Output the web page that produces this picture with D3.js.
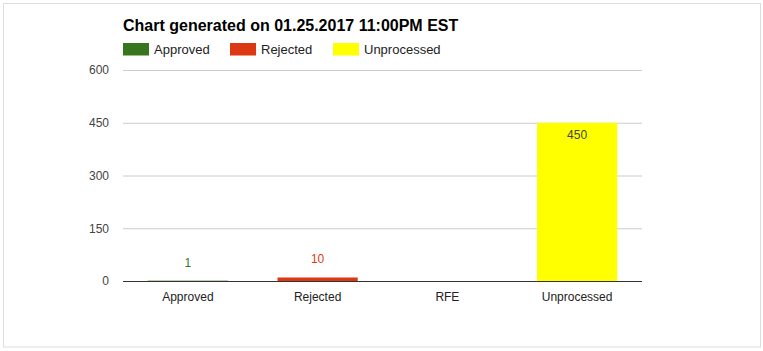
<!DOCTYPE html>
<html>
<head>
<meta charset="utf-8">
<script src="https://cdn.jsdelivr.net/npm/d3@7"></script>
<style>
  body { margin: 0; background: #fff; }
  svg { font-family: Arial, "Liberation Sans", sans-serif; }
</style>
</head>
<body>
<svg id="chart" width="763" height="351"></svg>
<script>
// chart data
var categories = ["Approved", "Rejected", "RFE", "Unprocessed"];
var values = [1, 10, null, 450];
var barColors = ["#38761d", "#dc3912", "#38761d", "#ffff00"];
var labelColors = ["#38761d", "#dc3912", "#38761d", "#444444"];
var legendNames = ["Approved", "Rejected", "Unprocessed"];
var legendColors = ["#38761d", "#dc3912", "#ffff00"];
var yTicks = [0, 150, 300, 450, 600];

var svg = d3.select("#chart")
  , plotLeft = 123, plotRight = 642, plotTop = 70, plotBottom = 281
;

// outer frame
svg.append("rect")
    .attr("x", 3.5).attr("y", 3.5)
    .attr("width", 757).attr("height", 343.5)
    .attr("fill", "#fff")
    .attr("stroke", "#dddddd");

svg.append("text")
    .attr("x", plotLeft).attr("y", 31)
    .attr("font-size", 16).attr("font-weight", "bold")
    .attr("fill", "#000")
    .text("Chart generated on 01.25.2017 11:00PM EST");

// legend
var legendX = [123, 230, 333];
var legend = svg.selectAll(".legend")
    .data(legendNames)
  .enter().append("g")
    .attr("class", "legend")
    .attr("transform", function(d, i) { return "translate(" + legendX[i] + ",43)"; });
legend.append("rect")
    .attr("width", 26).attr("height", 12.5)
    .attr("fill", function(d, i) { return legendColors[i]; });
legend.append("text")
    .attr("x", 31).attr("y", 11)
    .attr("font-size", 13).attr("fill", "#222")
    .text(function(d) { return d; });

var x = d3.scaleBand()
    .domain(categories)
    .range([plotLeft, plotRight])
    .paddingInner(0.382).paddingOuter(0.191);

var y = d3.scaleLinear()
    .domain([0, 600])
    .range([plotBottom, plotTop]);

// gridlines + y labels
var yAxis = d3.axisLeft(y)
    .tickValues(yTicks)
    .tickSize(-(plotRight - plotLeft))
    .tickPadding(14);
var gy = svg.append("g")
    .attr("transform", "translate(" + plotLeft + ",0)")
    .call(yAxis);
gy.select(".domain").remove();
gy.selectAll(".tick line")
    .attr("stroke", "#cccccc");
gy.selectAll(".tick text")
    .attr("font-size", 12).attr("fill", "#444")
    .attr("font-family", "Arial, 'Liberation Sans', sans-serif");

// bars
var rows = categories.map(function(c, i) { return { cat: c, v: values[i], i: i }; });
svg.selectAll(".bar")
    .data(rows.filter(function(d) { return d.v != null; }))
  .enter().append("rect")
    .attr("class", "bar")
    .attr("x", function(d) { return x(d.cat); })
    .attr("width", x.bandwidth())
    .attr("y", function(d) { return y(d.v); })
    .attr("height", function(d) { return y(0) - y(d.v); })
    .attr("fill", function(d) { return barColors[d.i]; });

// baseline on top of bars
svg.append("line")
    .attr("x1", plotLeft).attr("x2", plotRight)
    .attr("y1", y(0) + 0.5).attr("y2", y(0) + 0.5)
    .attr("stroke", "#333");

// value labels: inside tall bars, above short ones
svg.selectAll(".val")
    .data(rows.filter(function(d) { return d.v != null; }))
  .enter().append("text")
    .attr("class", "val")
    .attr("x", function(d) { return x(d.cat) + x.bandwidth() / 2; })
    .attr("y", function(d) {
        return (y(0) - y(d.v)) > 30 ? y(d.v) + 16 : y(d.v) - 14;
      })
    .attr("text-anchor", "middle")
    .attr("font-size", 12)
    .attr("fill", function(d) { return labelColors[d.i]; })
    .text(function(d) { return d.v; });

// category labels
var xAxis = d3.axisBottom(x).tickSize(0).tickPadding(11);
var gx = svg.append("g")
    .attr("transform", "translate(0," + plotBottom + ")")
    .call(xAxis);
gx.select(".domain").remove();
gx.selectAll(".tick text")
    .attr("font-size", 12).attr("fill", "#222")
    .attr("font-family", "Arial, 'Liberation Sans', sans-serif");
</script>
</body>
</html>
